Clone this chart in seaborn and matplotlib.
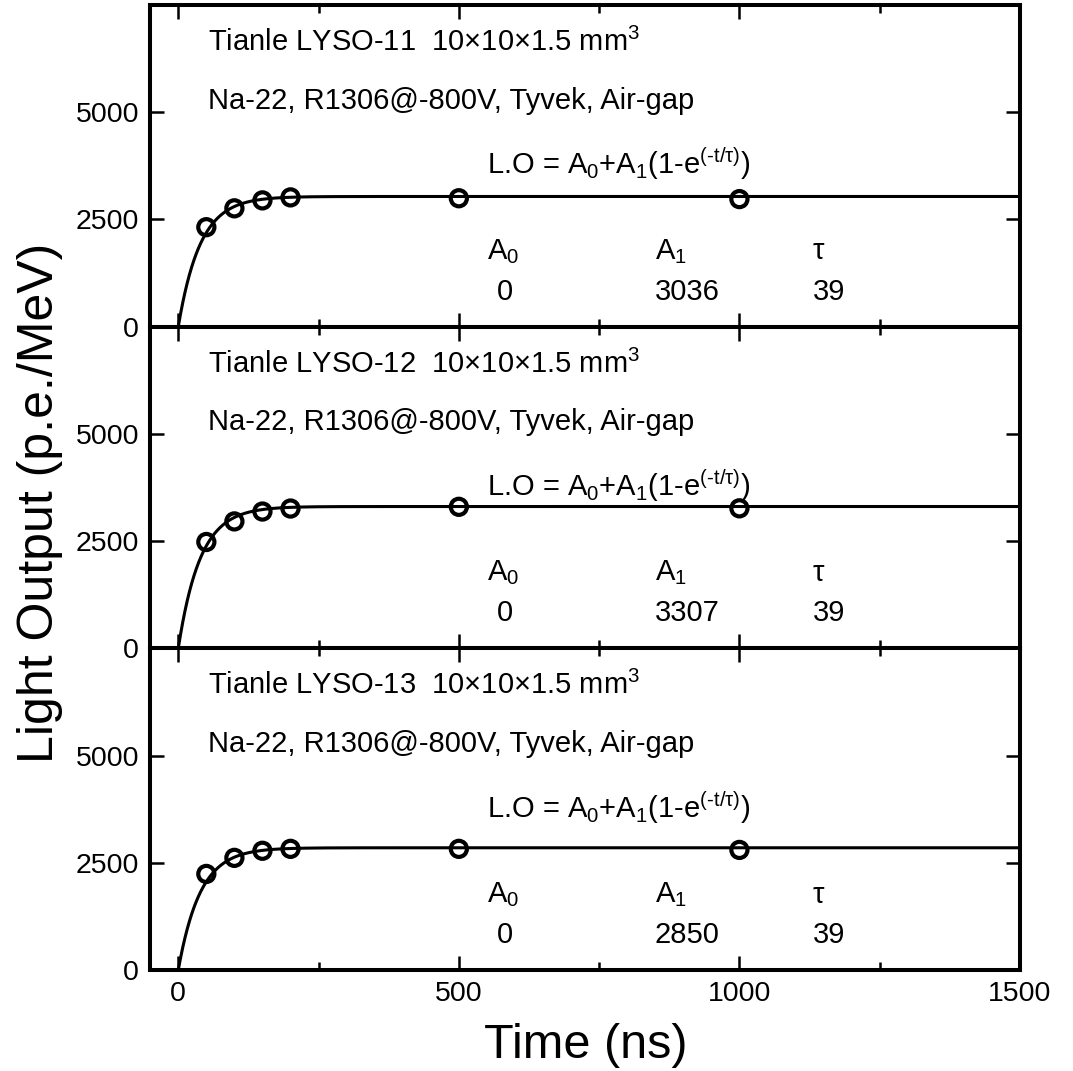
import numpy as np
import pandas as pd
import matplotlib
matplotlib.use("Agg")
import matplotlib.pyplot as plt
import seaborn as sns

# ---------------- data ----------------
time_ns = [50, 100, 150, 200, 500, 1000]
lo_lyso11 = [2320, 2760, 2945, 3015, 2995, 2975]
lo_lyso12 = [2480, 2960, 3190, 3260, 3300, 3265]
lo_lyso13 = [2240, 2615, 2780, 2825, 2825, 2800]
sample_names = ["Tianle LYSO-11", "Tianle LYSO-12", "Tianle LYSO-13"]
fit_A0 = [0, 0, 0]
fit_A1 = [3036, 3307, 2850]
fit_tau = [39, 39, 39]
x_ticks = [0, 500, 1000, 1500]
y_ticks = [0, 2500, 5000]

series = [lo_lyso11, lo_lyso12, lo_lyso13]

# ---------------- style ----------------
sns.set_theme(style="ticks")
plt.rcParams["font.family"] = ["Liberation Sans", "DejaVu Sans"]
plt.rcParams["mathtext.fontset"] = "custom"
plt.rcParams["mathtext.rm"] = "Liberation Sans"
plt.rcParams["mathtext.it"] = "Liberation Sans"
plt.rcParams["mathtext.bf"] = "Liberation Sans:bold"
plt.rcParams["mathtext.sf"] = "Liberation Sans"
for key in ["text.color", "axes.labelcolor", "xtick.color", "ytick.color",
            "xtick.labelcolor", "ytick.labelcolor"]:
    plt.rcParams[key] = "black"

fig = plt.figure(figsize=(10.73, 10.71), dpi=100)
axes = fig.subplots(3, 1, sharex=True)
fig.subplots_adjust(left=0.140, right=0.9506, top=0.9953, bottom=0.0943, hspace=0)

t_fit = np.linspace(0, 1500, 1501)
FS = 21

for i, ax in enumerate(axes):
    A0, A1, tau = fit_A0[i], fit_A1[i], fit_tau[i]
    fit_df = pd.DataFrame({"t": t_fit, "lo": A0 + A1 * (1 - np.exp(-t_fit / tau))})
    sns.lineplot(data=fit_df, x="t", y="lo", ax=ax, color="black", linewidth=2.2,
                 zorder=2)
    pts = pd.DataFrame({"t": time_ns, "lo": series[i]})
    sns.scatterplot(data=pts, x="t", y="lo", ax=ax, marker="o", s=135,
                    facecolor="none", edgecolor="black", linewidth=3.0, zorder=3)

    ax.set_xlim(-50, 1500)
    ax.set_ylim(0, 7500)
    ax.set_xticks(x_ticks)
    ax.set_xticks([250, 750, 1250], minor=True)
    ax.set_yticks(y_ticks)
    ax.set_xlabel("")
    ax.set_ylabel("")
    for sp in ax.spines.values():
        sp.set_linewidth(2.9)
        sp.set_color("black")
    ax.tick_params(axis="both", which="major", direction="in", length=10, width=1.8,
                   top=True, right=True, labelsize=20.5, pad=8, colors="black")
    ax.tick_params(axis="x", which="minor", direction="in", length=6, width=1.8,
                   top=True, bottom=True)
    ax.tick_params(axis="y", which="minor", left=False, right=False)

    ax.text(0.067, 0.884, sample_names[i] + "  10×10×1.5 mm$^{3}$",
            transform=ax.transAxes, fontsize=FS, va="center", ha="left")
    ax.text(0.067, 0.703, "Na-22, R1306@-800V, Tyvek, Air-gap",
            transform=ax.transAxes, fontsize=FS, va="center", ha="left")
    ax.text(0.387, 0.506, "L.O = A$_0$+A$_1$(1-e$^{(\u2010t/\\tau)}$)",
            transform=ax.transAxes, fontsize=FS, va="center", ha="left")
    ax.text(0.387, 0.234, r"A$_0$", transform=ax.transAxes, fontsize=FS,
            va="center", ha="left")
    ax.text(0.580, 0.234, r"A$_1$", transform=ax.transAxes, fontsize=FS,
            va="center", ha="left")
    ax.text(0.762, 0.234, "τ", transform=ax.transAxes, fontsize=FS,
            va="center", ha="left")
    ax.text(0.399, 0.109, f"{A0}", transform=ax.transAxes, fontsize=FS,
            va="center", ha="left")
    ax.text(0.580, 0.109, f"{A1}", transform=ax.transAxes, fontsize=FS,
            va="center", ha="left")
    ax.text(0.762, 0.109, f"{tau}", transform=ax.transAxes, fontsize=FS,
            va="center", ha="left")

fig.text(0.037, 0.530, "Light Output (p.e./MeV)", rotation=90, fontsize=36,
         ha="center", va="center")
fig.text(0.546, 0.024, "Time (ns)", fontsize=35, ha="center", va="center")

fig.savefig("out.png", dpi=100, facecolor="white")
